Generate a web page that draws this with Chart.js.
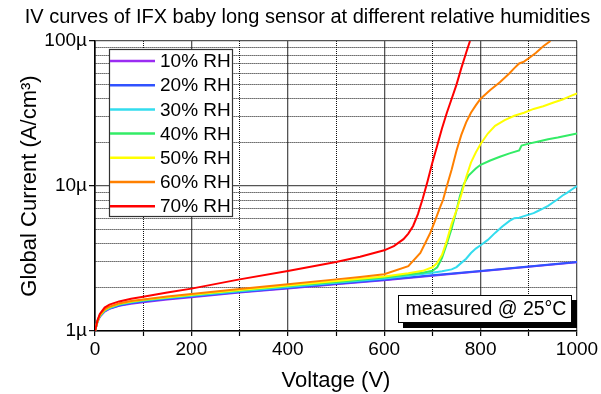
<!DOCTYPE html>
<html><head><meta charset="utf-8">
<script src="https://cdn.jsdelivr.net/npm/chart.js@4/dist/chart.umd.min.js"></script>
<style>html,body{margin:0;padding:0;background:#fff}canvas{display:block}</style>
</head><body>
<canvas id="c" width="601" height="394"></canvas>
<script>
const chartTitle = 'IV curves of IFX baby long sensor at different relative humidities';
const xTitle = 'Voltage (V)';
const yTitle = 'Global Current (A/cm³)';
const noteText = 'measured @ 25°C';
const seriesLabels = ['10% RH','20% RH','30% RH','40% RH','50% RH','60% RH','70% RH'];
const seriesColors = ['#9b2cf2','#3052ff','#33dcee','#33ec66','#ffff00','#ff8000','#ff0000'];

// current in µA/cm^3 vs voltage in V
const v10 = [0,5,10,20,30,50,75,100,150,200,300,400,500,600,700,800,900,1000];
const i10 = [1.00,1.15,1.25,1.36,1.42,1.49,1.54,1.58,1.65,1.71,1.84,1.96,2.10,2.24,2.40,2.58,2.77,2.98];
const v20 = [0,5,10,20,30,50,75,100,150,200,300,400,500,600,700,800,900,1000];
const i20 = [1.00,1.16,1.26,1.37,1.43,1.50,1.56,1.60,1.67,1.73,1.86,1.98,2.12,2.26,2.42,2.59,2.78,2.99];
const v30 = [0,5,10,20,30,50,75,100,150,200,300,400,500,600,650,700,720,740,750,760,770,780,790,800,815,830,845,860,870,880,890,900,910,920,930,940,950,960,970,980,990,1000];
const i30 = [1.00,1.16,1.27,1.38,1.44,1.52,1.58,1.62,1.69,1.75,1.88,2.01,2.15,2.30,2.40,2.52,2.58,2.66,2.76,2.95,3.15,3.45,3.70,3.90,4.25,4.75,5.25,5.75,6.00,6.05,6.20,6.35,6.50,6.75,7.00,7.30,7.70,8.10,8.60,9.00,9.50,10.0];
const v40 = [0,5,10,20,30,50,75,100,150,200,300,400,500,600,650,680,700,710,720,730,740,750,757,765,775,790,800,820,840,860,880,885,900,920,940,960,980,1000];
const i40 = [1.00,1.16,1.27,1.39,1.45,1.53,1.59,1.63,1.70,1.77,1.90,2.04,2.18,2.34,2.45,2.52,2.60,2.75,3.20,4.00,5.10,6.80,8.50,10.3,11.8,13.2,14.0,15.0,15.9,16.8,17.6,19.0,19.6,20.3,21.0,21.6,22.3,23.0];
const v50 = [0,5,10,20,30,50,75,100,150,200,300,400,500,600,650,680,700,710,720,730,740,750,760,770,780,790,800,815,830,850,870,890,910,930,950,970,985,1000];
const i50 = [1.00,1.16,1.28,1.40,1.46,1.54,1.60,1.64,1.71,1.78,1.92,2.06,2.21,2.38,2.50,2.60,2.75,2.95,3.35,4.20,5.50,6.80,8.70,11.5,14.5,17.0,19.5,23.0,26.0,28.5,30.5,32.0,34.0,35.5,37.5,39.5,41.5,43.5];
const v60 = [0,5,10,20,30,50,75,100,150,200,300,400,500,550,600,650,675,695,705,715,722,730,740,750,760,770,780,790,800,820,840,860,870,880,890,900,915,930,945];
const i60 = [1.00,1.17,1.29,1.41,1.47,1.55,1.61,1.65,1.73,1.80,1.95,2.10,2.27,2.36,2.46,2.80,3.45,4.70,5.70,7.00,8.00,10.0,13.0,17.5,22.5,27.5,32.0,36.0,40.0,46.0,52.0,60.0,65.0,70.0,72.0,76.0,83.0,92.0,100];
const v70 = [0,5,10,20,30,50,75,100,150,200,300,400,500,550,600,620,640,650,660,670,680,690,700,710,720,730,740,750,760,770,778];
const i70 = [1.00,1.18,1.31,1.45,1.52,1.60,1.67,1.72,1.84,1.96,2.27,2.59,2.99,3.25,3.60,3.85,4.30,4.70,5.30,6.40,8.20,10.8,14.5,19.0,25.0,32.0,40.0,50.0,65.0,83.0,100];

const xTickValues = [0,100,200,300,400,500,600,700,800,900,1000];
const xTickLabels = ['0','','200','','400','','600','','800','','1000'];
const yTickValues = [1,2,3,4,5,6,7,8,9,10,20,30,40,50,60,70,80,90,100];
const yTickLabels = {1:'1µ',10:'10µ',100:'100µ'};

const seriesV = [v10,v20,v30,v40,v50,v60,v70];
const seriesI = [i10,i20,i30,i40,i50,i60,i70];

const FONT = '"Liberation Sans", Arial, Helvetica, sans-serif';
Chart.defaults.font.family = FONT;
Chart.defaults.color = '#000';

const isDecade = v => Math.abs(Math.log10(v) - Math.round(Math.log10(v))) < 1e-9;
const isMajorX = v => v % 200 === 0;

const datasets = seriesLabels.map((lab, k) => ({
  label: lab,
  data: seriesV[k].map((v, j) => ({x: v, y: seriesI[k][j]})),
  borderColor: seriesColors[k],
  backgroundColor: seriesColors[k],
  borderWidth: 2,
  pointRadius: 0,
  tension: 0,
  fill: false,
  order: seriesLabels.length - 1 - k
}));

const bgPlugin = {id:'bg', beforeDraw(c){const x=c.ctx;x.save();x.fillStyle='#fff';x.fillRect(0,0,c.width,c.height);x.restore();}};
const legendPlugin = {
  id: 'boxLegend',
  afterDatasetsDraw(chart) {
    const ctx = chart.ctx;
    ctx.save();
    ctx.fillStyle = '#fff'; ctx.fillRect(109.5, 49.5, 123, 167);
    ctx.strokeStyle = '#333'; ctx.lineWidth = 1.2; ctx.strokeRect(109.5, 49.5, 123, 167);
    ctx.font = '19px ' + FONT;
    ctx.textBaseline = 'middle';
    chart.data.datasets.forEach((ds, i) => {
      const y = 61 + i * 24.2;
      ctx.strokeStyle = ds.borderColor; ctx.lineWidth = 2.5;
      ctx.beginPath(); ctx.moveTo(110, y); ctx.lineTo(155, y); ctx.stroke();
      ctx.fillStyle = '#000'; ctx.fillText(ds.label, 160, y + 1);
    });
    ctx.restore();
  }
};
const textPlugin = {
  id: 'texts',
  afterDraw(chart) {
    const ctx = chart.ctx;
    ctx.save();
    ctx.fillStyle = '#000';
    ctx.font = '20px ' + FONT;
    ctx.textAlign = 'center'; ctx.textBaseline = 'middle';
    ctx.fillText(chartTitle, 307.5, 17.5);
    // note box with shadow
    ctx.fillStyle = '#000'; ctx.fillRect(403, 300, 174, 28);
    ctx.fillStyle = '#fff'; ctx.fillRect(398, 295, 174, 28);
    ctx.strokeStyle = '#000'; ctx.lineWidth = 1; ctx.strokeRect(398.5, 295.5, 173, 27);
    ctx.fillStyle = '#000'; ctx.font = '19.5px ' + FONT;
    ctx.fillText(noteText, 486, 310);
    ctx.restore();
  }
};

new Chart(document.getElementById('c'), {
  type: 'line',
  data: { datasets },
  options: {
    responsive: false,
    animation: false,
    events: [],
    layout: { padding: { top: 41, right: 24, left: 0, bottom: 0 } },
    plugins: { legend: { display: false }, title: { display: false }, tooltip: { enabled: false } },
    scales: {
      x: {
        type: 'linear', min: 0, max: 1000,
        afterFit: s => { s.height = 63; },
        afterBuildTicks: s => { s.ticks = xTickValues.map(v => ({value: v})); },
        ticks: { autoSkip: false, maxRotation: 0, padding: 2, font: { size: 19 },
          callback: (v) => { const i = xTickValues.indexOf(v); return i >= 0 ? xTickLabels[i] : ''; } },
        grid: {
          color: c => (c.tick && !isMajorX(c.tick.value)) ? '#111' : '#555',
          lineWidth: c => (c.tick && isMajorX(c.tick.value)) ? 1.3 : 1,
          tickColor: '#000', tickLength: 5, tickWidth: 1.2
        },
        border: { color: '#000', width: 1.6,
          dash: c => (c.tick && !isMajorX(c.tick.value)) ? [1, 1] : [] },
        title: { display: true, text: xTitle, font: { size: 22 }, padding: { top: 0, bottom: 0 } }
      },
      y: {
        type: 'logarithmic', min: 1, max: 100,
        afterFit: s => { s.width = 95; },
        afterBuildTicks: s => { s.ticks = yTickValues.map(v => ({value: v})); },
        ticks: { autoSkip: false, padding: 2, font: { size: 19 },
          callback: (v) => yTickLabels[v] !== undefined ? yTickLabels[v] : '' },
        grid: {
          color: c => (c.tick && !isDecade(c.tick.value)) ? '#111' : '#555',
          lineWidth: c => (c.tick && isDecade(c.tick.value)) ? 1.3 : 1,
          tickColor: c => (c.tick && isDecade(c.tick.value)) ? '#000' : 'rgba(0,0,0,0)',
          tickLength: 6, tickWidth: 1.2
        },
        border: { color: '#000', width: 1.6,
          dash: c => (c.tick && !isDecade(c.tick.value)) ? [1, 1] : [] },
        title: { display: true, text: yTitle, font: { size: 22 }, padding: { top: 17, bottom: 0 } }
      }
    }
  },
  plugins: [bgPlugin, legendPlugin, textPlugin]
});
</script>
</body></html>
